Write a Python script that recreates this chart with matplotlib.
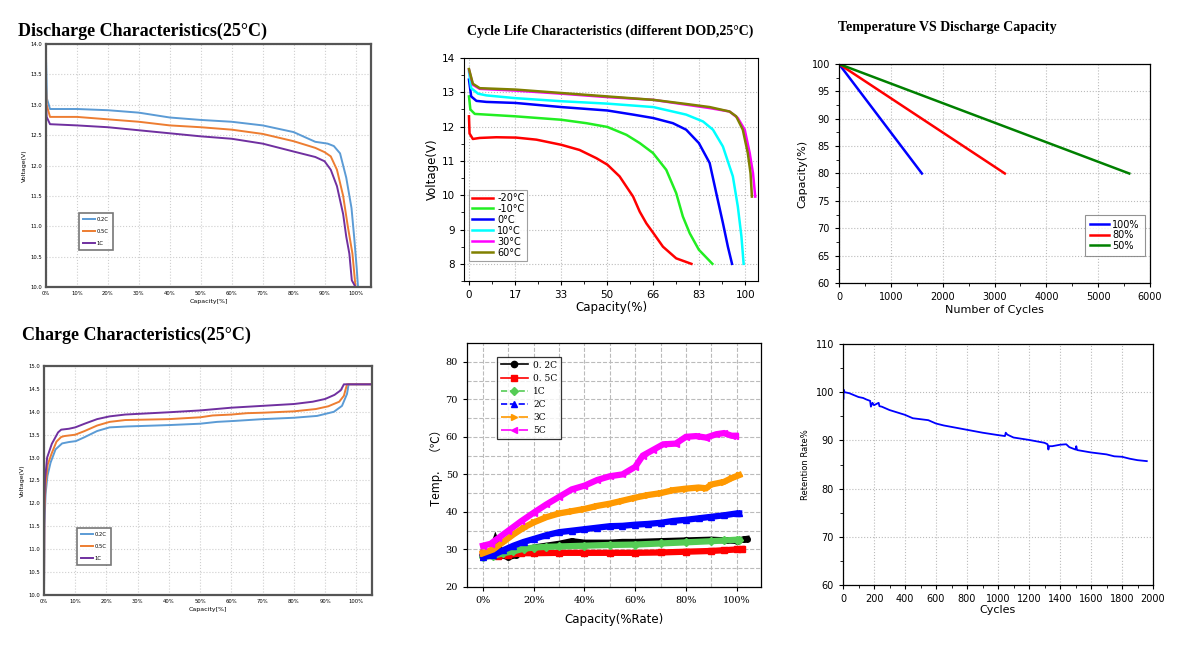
import matplotlib
matplotlib.use('Agg')
import matplotlib.pyplot as plt
import numpy as np

W, H = 1200, 650

# ---- discharge characteristics (25C) ----
dis_x_02 = [0, 0.3, 1.3, 10, 20, 30, 40, 50, 60, 70, 80, 87, 91, 93, 95, 97, 98.7, 99.6, 100.4, 100.8]
dis_y_02 = [13.78, 13.1, 12.93, 12.93, 12.91, 12.87, 12.79, 12.75, 12.72, 12.66, 12.55, 12.39, 12.36, 12.32, 12.2, 11.8, 11.3, 10.8, 10.3, 10.0]
dis_x_05 = [0, 0.2, 1.3, 10, 20, 30, 40, 50, 60, 70, 80, 87, 90, 92, 94, 96, 97.5, 99, 100]
dis_y_05 = [13.34, 13.0, 12.8, 12.80, 12.76, 12.72, 12.66, 12.63, 12.59, 12.52, 12.40, 12.29, 12.22, 12.15, 11.93, 11.5, 11.0, 10.55, 10.0]
dis_x_1 = [0, 0.2, 1.3, 10, 20, 30, 40, 50, 60, 70, 80, 87, 90, 92, 94, 96, 97, 98, 98.8, 100]
dis_y_1 = [13.06, 12.8, 12.68, 12.66, 12.63, 12.58, 12.53, 12.48, 12.44, 12.36, 12.23, 12.14, 12.07, 11.93, 11.66, 11.2, 10.83, 10.55, 10.11, 10.0]

# ---- charge characteristics (25C) ----
chg_x_02 = [0, 0.1, 0.5, 1.1, 2.1, 3.7, 5.8, 8, 10.2, 12.8, 17, 21, 26.7, 40, 50, 55.4, 60.8, 70, 80, 87.4, 92.8, 95.4, 97, 97.5, 105]
chg_y_02 = [10.0, 11.5, 12.2, 12.6, 12.89, 13.18, 13.31, 13.34, 13.36, 13.44, 13.58, 13.66, 13.68, 13.71, 13.74, 13.78, 13.80, 13.84, 13.87, 13.91, 14.0, 14.13, 14.39, 14.6, 14.6]
chg_x_05 = [0, 0.1, 0.5, 1.2, 2.5, 4, 5.5, 6.5, 10, 13, 17, 21, 26, 40, 50, 54, 60, 65, 70, 80, 87, 91, 94.5, 96, 97, 105]
chg_y_05 = [10.0, 11.8, 12.4, 12.85, 13.1, 13.35, 13.45, 13.47, 13.50, 13.58, 13.70, 13.78, 13.82, 13.84, 13.88, 13.92, 13.94, 13.97, 13.98, 14.01, 14.06, 14.12, 14.22, 14.35, 14.6, 14.6]
chg_x_1 = [0, 0.1, 0.3, 1, 2.5, 4.5, 5.5, 8, 10, 13, 17, 21, 26, 40, 50, 60, 70, 80, 86, 90, 93, 95, 96, 105]
chg_y_1 = [10.0, 12.0, 12.5, 13.0, 13.3, 13.55, 13.61, 13.63, 13.66, 13.74, 13.84, 13.90, 13.94, 13.99, 14.03, 14.09, 14.13, 14.17, 14.22, 14.28, 14.37, 14.47, 14.6, 14.6]

# ---- cycle life characteristics (temperatures) ----
cyc_labels = ['-20°C', '-10°C', '0°C', '10°C', '30°C', '60°C']
cyc_x_m20 = [0, 0.2, 1.4, 3.9, 9.9, 17.1, 24.4, 33.4, 40.0, 46.1, 50.1, 54.5, 59.4, 61.8, 64.2, 66.7, 70.2, 75.0, 80.5]
cyc_y_m20 = [12.3, 11.8, 11.64, 11.67, 11.69, 11.68, 11.62, 11.47, 11.32, 11.08, 10.89, 10.55, 9.96, 9.52, 9.18, 8.9, 8.5, 8.16, 8.0]
cyc_x_m10 = [0, 0.5, 2.1, 6.3, 16.8, 33.4, 42.5, 50.1, 57.0, 61.8, 66.6, 71.4, 75.0, 77.4, 79.9, 83.2, 88.1]
cyc_y_m10 = [12.88, 12.5, 12.37, 12.35, 12.3, 12.2, 12.1, 11.99, 11.76, 11.52, 11.23, 10.74, 10.06, 9.38, 8.89, 8.41, 8.0]
cyc_x_0 = [0, 0.8, 2.7, 6.3, 16.8, 33.4, 50.1, 59.4, 66.7, 73.8, 78.6, 83.2, 87.1, 89.5, 91.9, 93.7, 95.2]
cyc_y_0 = [13.37, 12.88, 12.75, 12.72, 12.69, 12.57, 12.47, 12.35, 12.25, 12.1, 11.91, 11.52, 10.94, 10.06, 9.19, 8.5, 8.0]
cyc_x_10 = [0, 0.8, 3.3, 6.3, 16.8, 33.4, 50.1, 66.7, 78.6, 84.7, 88.3, 91.9, 95.5, 97.3, 98.6, 99.4]
cyc_y_10 = [13.61, 13.12, 12.96, 12.91, 12.83, 12.74, 12.67, 12.57, 12.35, 12.15, 11.91, 11.42, 10.55, 9.67, 8.8, 8.0]
cyc_x_30 = [0, 1.4, 3.9, 16.8, 33.4, 50.1, 66.7, 78.6, 87.1, 94.3, 97.3, 99.8, 101.6, 102.8, 103.6]
cyc_y_30 = [13.66, 13.22, 13.1, 13.05, 12.96, 12.86, 12.78, 12.64, 12.54, 12.44, 12.25, 11.91, 11.23, 10.64, 9.96]
cyc_x_60 = [0, 1.4, 3.9, 16.8, 33.4, 50.1, 66.7, 78.6, 87.1, 94.3, 96.7, 99.1, 100.9, 101.9, 102.4]
cyc_y_60 = [13.68, 13.25, 13.12, 13.08, 12.98, 12.88, 12.78, 12.66, 12.57, 12.44, 12.3, 11.91, 11.23, 10.64, 9.96]

# ---- temperature rise at different rates ----
rate_labels = ['0. 2C', '0. 5C', '1C', '2C', '3C', '5C']
tmp_x_02 = [0, 3, 5, 6, 7, 10, 13, 16, 20, 25, 30, 35, 40, 45, 50, 55, 60, 70, 80, 90, 96, 100, 103, 104]
tmp_y_02 = [28, 28.5, 32.5, 31, 28.5, 28, 28.5, 29.5, 30.5, 31, 31.5, 32.2, 31.8, 31.8, 31.8, 32, 32, 32.2, 32.4, 32.6, 32.4, 32.3, 32.7, 32.8]
tmp_x_05 = [0, 3, 6, 10, 15, 20, 30, 40, 50, 60, 70, 80, 90, 95, 100, 102]
tmp_y_05 = [29, 28.5, 28.3, 28.5, 29, 29, 29.1, 29.1, 29.1, 29.1, 29.2, 29.4, 29.6, 29.8, 30, 30.1]
tmp_x_1 = [0, 4, 8, 12, 16, 20, 25, 30, 40, 50, 60, 70, 80, 90, 95, 100, 101]
tmp_y_1 = [28, 28.3, 29, 29.5, 30.2, 30.5, 30.7, 30.8, 31, 31.2, 31.3, 31.6, 31.9, 32.2, 32.4, 32.6, 32.5]
tmp_x_2 = [0, 4, 8, 12, 16, 20, 25, 30, 35, 40, 45, 50, 55, 60, 65, 70, 75, 80, 85, 90, 95, 100, 101]
tmp_y_2 = [28, 28.5, 29.8, 31, 32, 32.8, 33.8, 34.6, 35, 35.4, 35.8, 36.2, 36.3, 36.6, 36.8, 37.1, 37.6, 37.9, 38.3, 38.7, 39.1, 39.6, 39.6]
tmp_x_3 = [0, 4, 8, 12, 16, 20, 25, 30, 35, 40, 45, 50, 55, 60, 65, 70, 75, 80, 85, 88, 90, 95, 98, 101]
tmp_y_3 = [29, 30, 32, 34, 35.8, 37.2, 38.6, 39.6, 40.2, 40.8, 41.6, 42.2, 43, 43.8, 44.5, 45, 45.8, 46.2, 46.5, 46.3, 47.3, 48, 49, 49.8]
tmp_x_5 = [0, 3, 6, 10, 15, 20, 25, 30, 35, 40, 45, 50, 55, 60, 63, 67, 71, 76, 80, 84, 88, 92, 95, 98, 99.5]
tmp_y_5 = [31, 31.5, 33, 35, 37.5, 39.8, 42, 44, 46, 47, 48.5, 49.5, 50, 52, 55, 56.5, 58, 58.2, 60, 60.2, 59.8, 60.7, 61, 60.3, 60.3]

# ---- DOD vs cycles ----
dod_labels = ['100%', '80%', '50%']
dod_cycles_end = [1600, 3200, 5600]
dod_cap_start = 100
dod_cap_end = 80

# ---- retention rate ----
ret_cycles = [0, 2, 5, 10, 40, 100, 130, 150, 175, 180, 190, 200, 230, 235, 250, 300, 400, 450, 500, 550, 600,
              650, 700, 800, 900, 1000, 1045, 1050, 1060, 1100, 1200, 1300, 1320, 1325, 1330, 1350, 1400,
              1440, 1460, 1500, 1505, 1510, 1600, 1700, 1750, 1800, 1850, 1900, 1960]
ret_rate = [100, 98.5, 100.5, 100, 99.8, 99, 98.8, 98.5, 98.2, 97, 97.8, 97.3, 97.8, 97.1, 97, 96.3, 95.3, 94.6, 94.4,
            94.2, 93.5, 93.1, 92.8, 92.2, 91.6, 91.1, 90.9, 91.6, 91.2, 90.6, 90.1, 89.5, 89.2, 88.1, 88.8, 88.8,
            89.1, 89.2, 88.6, 88.1, 88.8, 88.0, 87.5, 87.1, 86.7, 86.6, 86.2, 85.9, 85.7]


fig = plt.figure(figsize=(12, 6.5), dpi=100)


def px_axes(x0, y0, x1, y1):
    return fig.add_axes([x0 / W, 1 - y1 / H, (x1 - x0) / W, (y1 - y0) / H])


def px_anchor(rect, px, py):
    x0, y0, x1, y1 = rect
    return ((px - x0) / (x1 - x0), 1 - (py - y0) / (y1 - y0))


def serif_title(x, y, s, size):
    fig.text(x / W, 1 - y / H, s, fontsize=size, fontweight='bold',
             family='Liberation Serif', va='center', ha='left')


excel_cols = ['#5B9BD5', '#ED7D31', '#7030A0']


def excel_style(ax, ymin, ymax):
    ax.set_xlim(0, 105)
    ax.set_ylim(ymin, ymax)
    ax.set_xticks(np.arange(0, 101, 10))
    ax.set_xticklabels(['%d%%' % v for v in range(0, 101, 10)])
    ax.set_yticks(np.arange(ymin, ymax + 0.01, 0.5))
    ax.set_yticklabels(['%.1f' % v for v in np.arange(ymin, ymax + 0.01, 0.5)])
    ax.tick_params(labelsize=3.8, length=0, pad=3)
    ax.grid(color='#cfcfcf', linestyle=':', linewidth=0.8)
    for s in ax.spines.values():
        s.set_color('#555555')
        s.set_linewidth(1.6)
    ax.set_xlabel('Capacity[%]', fontsize=4.5, labelpad=2)
    ax.set_ylabel('Voltage(V)', fontsize=4.5, labelpad=2)


def small_legend(ax, rect, px, py):
    lg = ax.legend(loc='upper left', bbox_to_anchor=px_anchor(rect, px, py), borderaxespad=0,
                   fontsize=3.8, handlelength=2.2, labelspacing=1.3, fancybox=False, borderpad=0.8,
                   handletextpad=0.3)
    lg.get_frame().set_edgecolor('#555555')
    lg.get_frame().set_linewidth(1.2)


# discharge
r1 = (46, 44, 371, 287)
ax1 = px_axes(*r1)
ax1.plot(dis_x_02, dis_y_02, color=excel_cols[0], lw=1.4, label='0.2C')
ax1.plot(dis_x_05, dis_y_05, color=excel_cols[1], lw=1.4, label='0.5C')
ax1.plot(dis_x_1, dis_y_1, color=excel_cols[2], lw=1.4, label='1C')
excel_style(ax1, 10.0, 14.0)
small_legend(ax1, r1, 79, 213)
serif_title(18, 31, 'Discharge Characteristics(25°C)', 13)

# charge
r2 = (44, 366, 372, 595)
ax2 = px_axes(*r2)
ax2.plot(chg_x_02, chg_y_02, color=excel_cols[0], lw=1.4, label='0.2C')
ax2.plot(chg_x_05, chg_y_05, color=excel_cols[1], lw=1.4, label='0.5C')
ax2.plot(chg_x_1, chg_y_1, color=excel_cols[2], lw=1.4, label='1C')
excel_style(ax2, 10.0, 15.0)
small_legend(ax2, r2, 77, 528)
serif_title(22, 335, 'Charge Characteristics(25°C)', 13)

# cycle life
r3 = (464, 58, 758, 281)
ax3 = px_axes(*r3)
cyc_cols = ['#FF0000', '#22EE22', '#0000FF', '#00FFFF', '#FF00FF', '#808000']
cyc_data = [(cyc_x_m20, cyc_y_m20), (cyc_x_m10, cyc_y_m10), (cyc_x_0, cyc_y_0),
            (cyc_x_10, cyc_y_10), (cyc_x_30, cyc_y_30), (cyc_x_60, cyc_y_60)]
for (xs, ys), c, lab in zip(cyc_data, cyc_cols, cyc_labels):
    ax3.plot(xs, ys, color=c, lw=1.8, label=lab)
ax3.set_xlim(-1.8, 104.6)
ax3.set_ylim(7.5, 14)
ax3.set_xticks([0, 100 / 6, 200 / 6, 50, 400 / 6, 500 / 6, 100])
ax3.set_xticklabels(['0', '17', '33', '50', '66', '83', '100'])
ax3.set_yticks([8, 9, 10, 11, 12, 13, 14])
ax3.set_xticks([100 / 12 * k for k in range(1, 13, 2)], minor=True)
ax3.set_yticks(np.arange(7.5, 14, 0.5), minor=True)
ax3.tick_params(labelsize=7.5, direction='out', length=3, width=0.8)
ax3.tick_params(which='minor', length=2, width=0.6)
ax3.grid(color='#bbbbbb', linestyle=':', linewidth=0.8)
ax3.set_xlabel('Capacity(%)', fontsize=8.5, labelpad=1)
ax3.set_ylabel('Voltage(V)', fontsize=8.5, labelpad=2)
for s in ax3.spines.values():
    s.set_linewidth(0.8)
lg = ax3.legend(loc='upper left', bbox_to_anchor=px_anchor(r3, 469, 190), borderaxespad=0,
                fontsize=7, handlelength=2.2, labelspacing=0.1, fancybox=False, borderpad=0.3,
                handletextpad=0.4)
lg.get_frame().set_edgecolor('#888888')
lg.get_frame().set_linewidth(0.8)
fig.text(610 / W, 1 - 31 / H, 'Cycle Life Characteristics (different DOD,25°C)', fontsize=10,
         fontweight='bold', family='Liberation Serif', ha='center', va='center')

# temperature rise
r4 = (467, 343, 761, 587)
ax4 = px_axes(*r4)
tmp_styles = [
    (tmp_x_02, tmp_y_02, 'black', 'o', '-'),
    (tmp_x_05, tmp_y_05, '#FF0000', 's', '-'),
    (tmp_x_1, tmp_y_1, '#55CC55', 'D', '--'),
    (tmp_x_2, tmp_y_2, '#0000FF', '^', '--'),
    (tmp_x_3, tmp_y_3, '#FF9900', '>', '-.'),
    (tmp_x_5, tmp_y_5, '#FF00FF', '<', '-.'),
]
for (xs, ys, c, m, ls), lab in zip(tmp_styles, rate_labels):
    ax4.plot(xs, ys, color=c, lw=4.5, solid_joinstyle='miter')
    ax4.plot(xs, ys, color=c, lw=0, marker=m, ms=4)
    ax4.plot([], [], color=c, lw=1.2, ls=ls, marker=m, ms=4.5, label=lab)
ax4.set_xlim(-6.3, 109.6)
ax4.set_ylim(20, 85)
ax4.set_xticks(np.arange(0, 101, 20))
ax4.set_xticklabels(['%d%%' % v for v in range(0, 101, 20)])
ax4.set_yticks(np.arange(20, 81, 10))
ax4.set_yticks(np.arange(25, 85, 10), minor=True)
ax4.set_xticks(np.arange(0, 101, 10), minor=True)
ax4.tick_params(labelsize=7, direction='out', length=3, width=0.8)
ax4.tick_params(which='minor', length=0)
for lab in ax4.get_xticklabels() + ax4.get_yticklabels():
    lab.set_family('DejaVu Serif')
ax4.grid(which='both', color='#bbbbbb', linestyle='--', linewidth=0.8)
ax4.set_xlabel('Capacity(%Rate)', fontsize=8.5, labelpad=6)
ax4.set_ylabel('Temp.　（℃）', fontsize=8.5, family=['Noto Sans CJK SC', 'DejaVu Sans'], labelpad=2)
for s in ax4.spines.values():
    s.set_linewidth(0.9)
lg = ax4.legend(loc='upper left', bbox_to_anchor=px_anchor(r4, 497, 357), borderaxespad=0,
                prop={'family': 'DejaVu Serif', 'size': 6.5}, handlelength=3, labelspacing=0.45,
                fancybox=False, borderpad=0.4, handletextpad=0.6)
lg.get_frame().set_edgecolor('black')
lg.get_frame().set_linewidth(0.9)

# DOD vs cycles
r5 = (839, 64, 1150, 283)
ax5 = px_axes(*r5)
dod_cols = ['#0000FF', '#FF0000', '#008000']
for n, c, lab in zip(dod_cycles_end, dod_cols, dod_labels):
    ax5.plot([0, n], [dod_cap_start, dod_cap_end], color=c, lw=1.8, label=lab)
ax5.set_xlim(0, 6000)
ax5.set_ylim(60, 100)
ax5.set_xticks(np.arange(0, 6001, 1000))
ax5.set_yticks(np.arange(60, 101, 5))
ax5.set_xticks(np.arange(500, 6000, 1000), minor=True)
ax5.set_yticks(np.arange(62.5, 100, 5), minor=True)
ax5.tick_params(labelsize=7, direction='out', length=3, width=0.8)
ax5.tick_params(which='minor', length=2, width=0.6)
ax5.grid(color='#bbbbbb', linestyle=':', linewidth=0.8)
ax5.set_xlabel('Number of Cycles', fontsize=8, labelpad=2)
ax5.set_ylabel('Capacity(%)', fontsize=8, labelpad=3)
for s in ax5.spines.values():
    s.set_linewidth(0.9)
lg = ax5.legend(loc='upper left', bbox_to_anchor=px_anchor(r5, 1085, 215), borderaxespad=0,
                fontsize=7, handlelength=2.0, labelspacing=0.05, fancybox=False, borderpad=0.5,
                handletextpad=0.3)
lg.get_frame().set_edgecolor('#777777')
lg.get_frame().set_linewidth(0.8)
serif_title(838, 28, 'Temperature VS Discharge Capacity', 10)

# retention
r6 = (843, 344, 1153, 585)
ax6 = px_axes(*r6)
ax6.plot(ret_cycles, ret_rate, color='#0000FF', lw=1.3)
ax6.set_xlim(0, 2000)
ax6.set_ylim(60, 110)
ax6.set_xticks(np.arange(0, 2001, 200))
ax6.set_yticks(np.arange(60, 111, 10))
ax6.set_xticks(np.arange(100, 2000, 200), minor=True)
ax6.set_yticks(np.arange(65, 110, 10), minor=True)
ax6.tick_params(labelsize=7, direction='out', length=3, width=0.8)
ax6.tick_params(which='minor', length=2, width=0.6)
ax6.grid(color='#bbbbbb', linestyle=':', linewidth=0.8)
ax6.set_xlabel('Cycles', fontsize=8, labelpad=1)
ax6.set_ylabel('Retention Rate%', fontsize=6, labelpad=4)
for s in ax6.spines.values():
    s.set_linewidth(0.9)

fig.savefig('out.png', dpi=100)
